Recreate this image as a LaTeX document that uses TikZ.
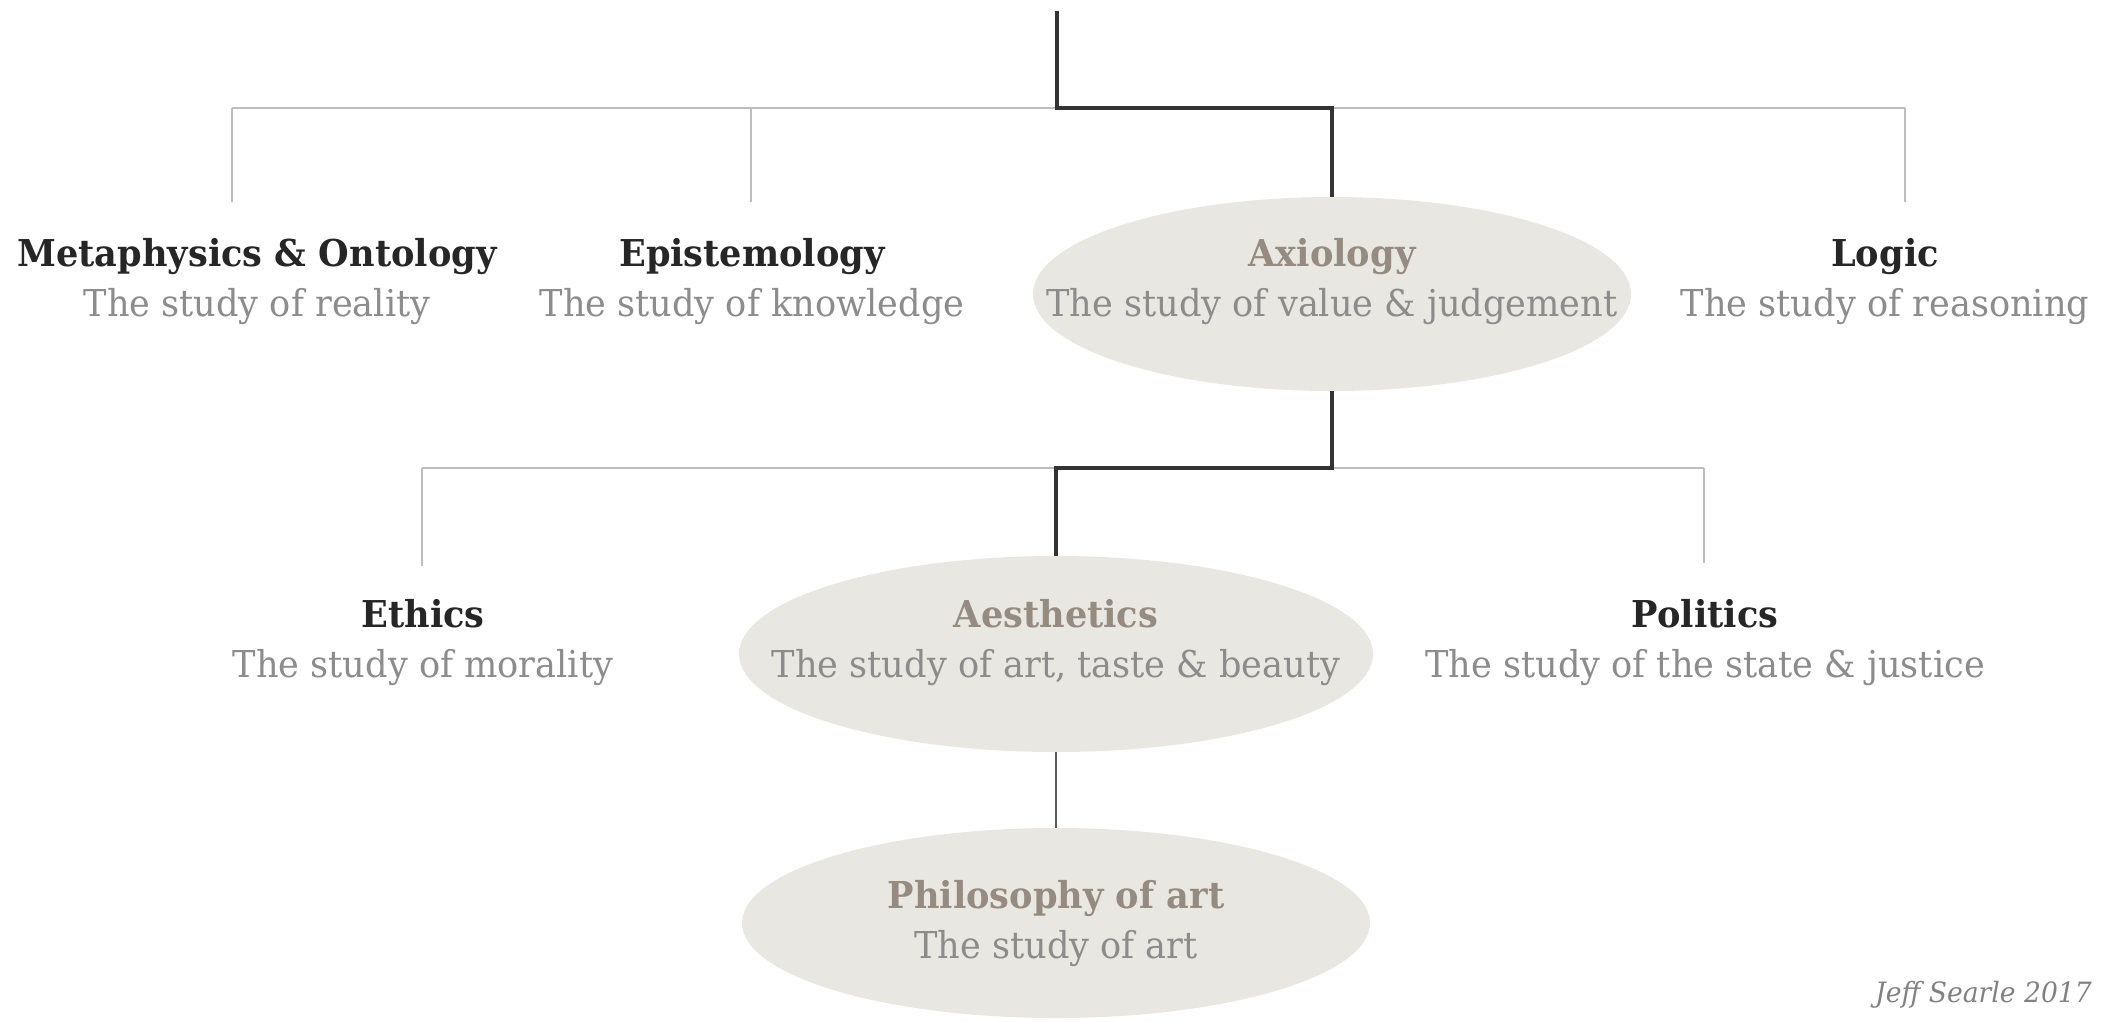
\documentclass[tikz,border=0pt]{standalone}
\usepackage{fontspec}
\setmainfont{DejaVu Serif}[FakeStretch=0.95]
\usetikzlibrary{shapes.geometric}
\definecolor{titledark}{HTML}{262626}
\definecolor{titlehl}{HTML}{968B80}
\definecolor{subgrey}{HTML}{8C8C8C}
\definecolor{ellfill}{HTML}{E8E7E1}
\definecolor{lightline}{HTML}{BDBDBD}
\definecolor{darkline}{HTML}{333333}
\tikzset{
  branch/.style={draw=lightline, line width=2pt},
  mainpath/.style={draw=darkline, line width=3.5pt, line join=miter},
  leaf/.style={align=center, font=\fontsize{37}{50}\selectfont, inner sep=0pt},
  oval/.style={ellipse, fill=ellfill, draw=none, inner sep=0pt},
}
\newcommand{\hdk}[1]{{\bfseries\color{titledark}#1}}
\newcommand{\hdh}[1]{{\bfseries\color{titlehl}#1}}
\newcommand{\sbt}[1]{{\color{subgrey}#1}}
\begin{document}
\begin{tikzpicture}[x=1pt,y=-1pt]
\useasboundingbox (0,0) rectangle (2114,1021);
% ellipses
\node[oval, minimum width=598pt, minimum height=194pt] (axo) at (1332,294) {};
\node[oval, minimum width=634pt, minimum height=196pt] (aeo) at (1056,654) {};
\node[oval, minimum width=628pt, minimum height=190pt] (pho) at (1056,923) {};
% texts
\node[leaf] (meta) at (257,282) {\hdk{Metaphysics \& Ontology}\\\sbt{The study of reality}};
\node[leaf] (epi) at (752,282) {\hdk{Epistemology}\\\sbt{The study of knowledge}};
\node[leaf] (axt) at (1332,282) {\hdh{Axiology}\\\sbt{The study of value \& judgement}};
\node[leaf] (logic) at (1885,282) {\hdk{Logic}\\\sbt{The study of reasoning}};
\node[leaf] (eth) at (423,643) {\hdk{Ethics}\\\sbt{The study of morality}};
\node[leaf] (aet) at (1056,643) {\hdh{Aesthetics}\\\sbt{The study of art, taste \& beauty}};
\node[leaf] (pol) at (1705,643) {\hdk{Politics}\\\sbt{The study of the state \& justice}};
\node[leaf] (pht) at (1056,924) {\hdh{Philosophy of art}\\\sbt{The study of art}};
\node[anchor=east, inner sep=0pt, font=\itshape\fontsize{28}{32}\selectfont, text=subgrey!110] (credit) at (2092,995) {Jeff Searle 2017};
% connector points
\coordinate (top) at (1057,11);
\coordinate (j1) at (1057,108);
\coordinate (j1l) at (232,108);
\coordinate (j1r) at (1905,108);
\coordinate (j1a) at (1332,108);
\coordinate (dmeta) at (232,202);
\coordinate (depi) at (751,108);
\coordinate (depie) at (751,202);
\coordinate (dlog) at (1905,202);
\coordinate (j2a) at (1332,468);
\coordinate (j2l) at (422,468);
\coordinate (j2r) at (1704,468);
\coordinate (j2e) at (1056,468);
\coordinate (deth) at (422,566);
\coordinate (dpol) at (1704,563);
% grey branches
\draw[branch] (j1l) -- (j1r);
\draw[branch] (j1l) -- (dmeta);
\draw[branch] (depi) -- (depie);
\draw[branch] (j1r) -- (dlog);
\draw[branch] (j2l) -- (j2r);
\draw[branch] (j2l) -- (deth);
\draw[branch] (j2r) -- (dpol);
% main path
\draw[mainpath] (top) -- (j1) -- (j1a) -- (axo.north);
\draw[mainpath] (axo.south) -- (j2a) -- (j2e) -- (aeo.north);
\draw[draw=darkline!80, line width=2.5pt] (aeo.south) -- (pho.north);
\end{tikzpicture}
\end{document}
